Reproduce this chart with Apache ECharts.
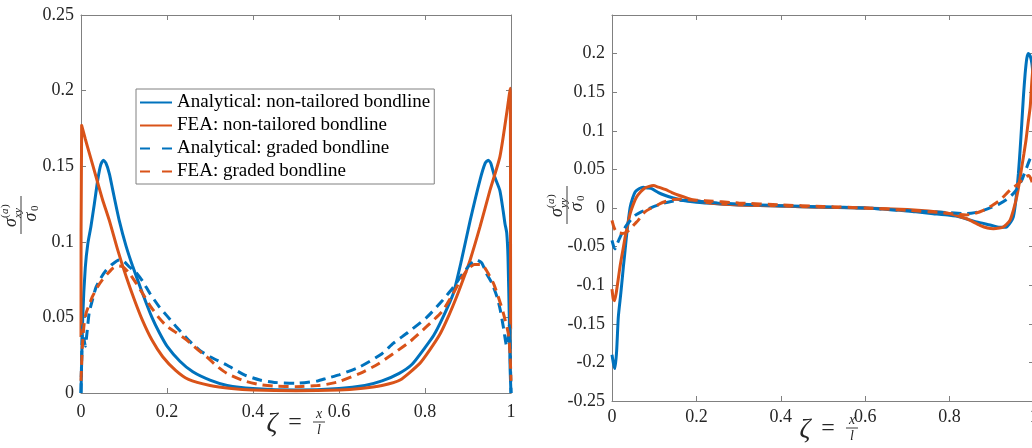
<!DOCTYPE html>
<html><head><meta charset="utf-8">
<script src="https://cdn.jsdelivr.net/npm/echarts/dist/echarts.min.js"></script>
<style>html,body{margin:0;padding:0;background:#fff}#c{width:1032px;height:448px}</style>
</head><body><div id="c"></div>
<script>
// ---------- data ----------
const seriesNames = ['Analytical: non-tailored bondline','FEA: non-tailored bondline','Analytical: graded bondline','FEA: graded bondline'];
const xTickValues = [0, 0.2, 0.4, 0.6, 0.8, 1];
const shearTickLabels = ['0','0.05','0.1','0.15','0.2','0.25'];
const peelTickLabels = ['-0.25','-0.2','-0.15','-0.1','-0.05','0','0.05','0.1','0.15','0.2'];

// left panel: shear stress sigma_xy / sigma_0
const shearAnalyticalNonTailored = [[0,0],[0.004,0.05],[0.01,0.083],[0.016,0.099],[0.023,0.11],[0.031,0.125],[0.039,0.141],[0.046,0.151],[0.052,0.154],[0.058,0.152],[0.066,0.145],[0.074,0.134],[0.089,0.114],[0.105,0.097],[0.12,0.084],[0.143,0.066],[0.165,0.05],[0.182,0.04],[0.2,0.031],[0.23,0.021],[0.26,0.014],[0.3,0.0085],[0.34,0.005],[0.4,0.003],[0.5,0.002],[0.6,0.003],[0.66,0.005],[0.7,0.008],[0.74,0.013],[0.77,0.019],[0.8,0.03],[0.82,0.038],[0.84,0.049],[0.866,0.066],[0.885,0.088],[0.905,0.114],[0.928,0.141],[0.94,0.152],[0.947,0.154],[0.953,0.152],[0.962,0.143],[0.974,0.134],[0.982,0.12],[0.986,0.112],[0.99,0.106],[0.993,0.09],[0.996,0.05],[0.998,0.015],[1,0]];
const shearFEANonTailored = [[0,0.037],[0.0015,0.177],[0.01,0.168],[0.02,0.158],[0.035,0.143],[0.05,0.128],[0.066,0.114],[0.085,0.095],[0.105,0.077],[0.125,0.061],[0.143,0.048],[0.165,0.035],[0.19,0.024],[0.22,0.015],[0.25,0.009],[0.3,0.005],[0.35,0.003],[0.4,0.002],[0.5,0.0015],[0.6,0.002],[0.65,0.003],[0.7,0.005],[0.742,0.0086],[0.788,0.0196],[0.81,0.028],[0.835,0.039],[0.855,0.051],[0.874,0.064],[0.89,0.076],[0.905,0.088],[0.928,0.11],[0.951,0.134],[0.974,0.156],[0.99,0.185],[0.998,0.2015],[0.9992,0.042],[1,0.042]];
const shearAnalyticalGraded = [[0,0],[0.002,0.03],[0.004,0.045],[0.007,0.036],[0.01,0.031],[0.014,0.04],[0.019,0.053],[0.027,0.062],[0.035,0.07],[0.046,0.076],[0.058,0.081],[0.072,0.085],[0.089,0.088],[0.1,0.087],[0.112,0.0835],[0.127,0.08],[0.143,0.074],[0.16,0.066],[0.182,0.057],[0.2,0.051],[0.221,0.044],[0.25,0.035],[0.277,0.028],[0.3,0.024],[0.339,0.0185],[0.38,0.012],[0.416,0.0086],[0.45,0.007],[0.5,0.0065],[0.55,0.008],[0.571,0.0097],[0.6,0.012],[0.649,0.0174],[0.7,0.026],[0.726,0.0328],[0.76,0.04],[0.804,0.05],[0.84,0.061],[0.866,0.07],[0.885,0.078],[0.905,0.085],[0.92,0.088],[0.932,0.086],[0.943,0.079],[0.955,0.073],[0.967,0.064],[0.975,0.055],[0.982,0.044],[0.99,0.031],[0.993,0.036],[0.996,0.045],[0.998,0.03],[1,0]];
const shearFEAGraded = [[0,0.008],[0.003,0.03],[0.007,0.045],[0.012,0.053],[0.02,0.059],[0.027,0.064],[0.038,0.07],[0.05,0.075],[0.062,0.079],[0.074,0.0825],[0.085,0.084],[0.097,0.0835],[0.11,0.08],[0.125,0.074],[0.143,0.066],[0.16,0.058],[0.182,0.0495],[0.2,0.044],[0.221,0.04],[0.246,0.035],[0.27,0.029],[0.292,0.024],[0.315,0.018],[0.339,0.013],[0.38,0.008],[0.416,0.0055],[0.45,0.0045],[0.5,0.0042],[0.55,0.005],[0.571,0.0057],[0.6,0.0075],[0.649,0.013],[0.69,0.019],[0.726,0.026],[0.765,0.034],[0.804,0.044],[0.84,0.054],[0.866,0.066],[0.885,0.076],[0.9,0.082],[0.915,0.085],[0.932,0.085],[0.945,0.08],[0.959,0.0726],[0.97,0.064],[0.982,0.053],[0.994,0.039],[0.998,0.025],[1,0.008]];

// right panel: peel stress sigma_yy / sigma_0
const peelAnalyticalNonTailored = [[0,-0.19],[0.004,-0.203],[0.007,-0.208],[0.011,-0.185],[0.015,-0.141],[0.021,-0.11],[0.027,-0.076],[0.031,-0.055],[0.035,-0.033],[0.039,-0.015],[0.043,0.001],[0.049,0.013],[0.055,0.021],[0.064,0.025],[0.074,0.027],[0.084,0.026],[0.094,0.025],[0.11,0.02],[0.125,0.0165],[0.145,0.013],[0.165,0.01],[0.2,0.0075],[0.25,0.0055],[0.3,0.004],[0.4,0.0025],[0.5,0.001],[0.6,0],[0.682,-0.003],[0.72,-0.005],[0.761,-0.0073],[0.8,-0.0095],[0.825,-0.0116],[0.845,-0.015],[0.864,-0.018],[0.896,-0.022],[0.919,-0.025],[0.935,-0.0246],[0.945,-0.018],[0.951,-0.0116],[0.957,0.01],[0.963,0.0445],[0.967,0.075],[0.971,0.109],[0.975,0.145],[0.979,0.174],[0.983,0.194],[0.987,0.2],[0.991,0.197],[0.995,0.187],[1,0.16]];
const peelFEANonTailored = [[0,-0.105],[0.003,-0.118],[0.006,-0.12],[0.01,-0.11],[0.019,-0.076],[0.025,-0.057],[0.031,-0.038],[0.037,-0.022],[0.043,-0.0073],[0.05,0.004],[0.058,0.014],[0.068,0.021],[0.078,0.026],[0.088,0.028],[0.098,0.029],[0.11,0.027],[0.126,0.024],[0.142,0.02],[0.158,0.0165],[0.18,0.0125],[0.197,0.01],[0.244,0.0057],[0.3,0.004],[0.4,0.0025],[0.5,0.001],[0.6,0],[0.7,-0.002],[0.75,-0.004],[0.801,-0.0073],[0.82,-0.0105],[0.84,-0.0138],[0.872,-0.0224],[0.89,-0.026],[0.904,-0.027],[0.918,-0.026],[0.927,-0.0246],[0.935,-0.021],[0.943,-0.016],[0.951,-0.003],[0.959,0.0142],[0.965,0.032],[0.971,0.053],[0.976,0.07],[0.981,0.0877],[0.986,0.11],[0.991,0.131],[0.995,0.165],[1,0.2]];
const peelAnalyticalGraded = [[0,-0.042],[0.004,-0.05],[0.007,-0.053],[0.011,-0.048],[0.019,-0.038],[0.027,-0.029],[0.035,-0.022],[0.045,-0.015],[0.055,-0.0095],[0.066,-0.006],[0.078,-0.003],[0.1,0.002],[0.118,0.0057],[0.14,0.0085],[0.158,0.01],[0.18,0.0095],[0.2,0.009],[0.25,0.0065],[0.3,0.005],[0.4,0.003],[0.5,0.0015],[0.6,0],[0.682,-0.003],[0.761,-0.005],[0.8,-0.006],[0.84,-0.0073],[0.86,-0.006],[0.88,-0.003],[0.9,0.001],[0.919,0.0057],[0.935,0.011],[0.951,0.0186],[0.961,0.026],[0.971,0.036],[0.983,0.053],[0.991,0.064],[1,0.07]];
const peelFEAGraded = [[0,-0.016],[0.004,-0.024],[0.008,-0.029],[0.015,-0.032],[0.025,-0.033],[0.035,-0.031],[0.045,-0.026],[0.055,-0.02],[0.062,-0.016],[0.07,-0.01],[0.078,-0.005],[0.09,-0.001],[0.1,0.001],[0.114,0.0057],[0.13,0.009],[0.145,0.011],[0.165,0.0115],[0.19,0.0105],[0.22,0.0095],[0.3,0.0065],[0.4,0.004],[0.5,0.002],[0.6,0],[0.7,-0.003],[0.78,-0.006],[0.84,-0.009],[0.86,-0.007],[0.88,-0.003],[0.9,0.003],[0.919,0.01],[0.943,0.023],[0.963,0.0316],[0.979,0.04],[0.988,0.042],[0.994,0.036],[1,0.025]];

// ---------- chart ----------
const BLUE = '#0072BD', ORANGE = '#D95319';
const FONT = 'Liberation Serif';
const AX = '#808080', TXT = '#262626';
const chart = echarts.init(document.getElementById('c'), null, {renderer: 'canvas'});

function xAxes(gi, margin) {
  const base = {gridIndex: gi, type: 'value', min: 0, max: 1, interval: 0.2,
    splitLine: {show: false},
    axisLine: {show: true, onZero: false, lineStyle: {color: AX, width: 1}},
    axisTick: {show: true, inside: true, length: 5, lineStyle: {color: AX}}};
  return [
    Object.assign({}, base, {position: 'bottom',
      axisLabel: {show: true, margin: margin, color: TXT, fontFamily: FONT, fontSize: 18, hideOverlap: false,
        formatter: v => { const i = xTickValues.findIndex(t => Math.abs(t - v) < 1e-9); return i < 0 ? '' : String(xTickValues[i]); }}}),
    Object.assign({}, base, {position: 'top', axisLabel: {show: false}})
  ];
}
function yAxes(gi, min, max, labels) {
  const base = {gridIndex: gi, type: 'value', min: min, max: max, interval: 0.05,
    splitLine: {show: false},
    axisLine: {show: true, onZero: false, lineStyle: {color: AX, width: 1}},
    axisTick: {show: true, inside: true, length: 5, lineStyle: {color: AX}}};
  return [
    Object.assign({}, base, {position: 'left',
      axisLabel: {show: true, margin: 7, color: TXT, fontFamily: FONT, fontSize: 18,
        formatter: v => { const s = labels.find(l => Math.abs(parseFloat(l) - v) < 1e-9); return s === undefined ? '' : s; }}}),
    Object.assign({}, base, {position: 'right', axisLabel: {show: false}})
  ];
}
function line(name, data, xi, yi, color, dashed) {
  return {name: name, type: 'line', data: data, xAxisIndex: xi, yAxisIndex: yi,
    symbol: 'none', showSymbol: false, smooth: 0.2, animation: false,
    lineStyle: {color: color, width: 3, type: dashed ? [10, 6] : 'solid'},
    itemStyle: {color: color}};
}
function txt(x, y, s, size, italic, align, valign) {
  return {type: 'text', x: x, y: y, style: {text: s, fontFamily: FONT, fontSize: size,
    fontStyle: italic ? 'italic' : 'normal', fill: TXT, align: align || 'center', verticalAlign: valign || 'middle'}};
}
function yFrac(cx, cy, sub) {
  return {type: 'group', x: cx, y: cy, rotation: Math.PI / 2, children: [
    txt(-3, -1, 'σ', 18, true, 'right', 'bottom'),
    txt(-3, -10, '(', 11, false, 'left', 'bottom'),
    txt(1, -10, 'a', 11, true, 'left', 'bottom'),
    txt(7, -10, ')', 11, false, 'left', 'bottom'),
    txt(-3, -8, sub, 11, true, 'left', 'top'),
    {type: 'line', shape: {x1: -19, y1: 0, x2: 19, y2: 0}, style: {stroke: TXT, lineWidth: 0.9}},
    txt(-2, 1, 'σ', 18, true, 'center', 'top'),
    txt(4, 9, '0', 11, false, 'left', 'top')
  ]};
}
function xTitle(x0, y0) {
  return {type: 'group', x: x0, y: y0, children: [
    txt(0, 0, 'ζ', 27, true, 'center', 'middle'),
    txt(23, -1, '=', 24, false, 'center', 'middle'),
    txt(47, -3, 'x', 14, true, 'center', 'bottom'),
    {type: 'line', shape: {x1: 41, y1: -2, x2: 53, y2: -2}, style: {stroke: TXT, lineWidth: 0.9}},
    txt(47, -1, 'l', 14, true, 'center', 'top')
  ]};
}

const option = {
  backgroundColor: '#fff',
  animation: false,
  grid: [
    {left: 81, top: 15, width: 430, height: 378, containLabel: false, outerBoundsMode: 'none'},
    {left: 612, top: 15, width: 422, height: 386, containLabel: false, outerBoundsMode: 'none'}
  ],
  xAxis: xAxes(0, 10).concat(xAxes(1, 7)),
  yAxis: yAxes(0, 0, 0.25, shearTickLabels).concat(yAxes(1, -0.25, 0.25, peelTickLabels)),
  legend: {
    data: [
      {name: seriesNames[0]},
      {name: seriesNames[1]},
      {name: seriesNames[2], lineStyle: {type: [10, 12]}},
      {name: seriesNames[3], lineStyle: {type: [10, 12]}}
    ],
    orient: 'vertical', left: 136, top: 89,
    backgroundColor: '#fff', borderColor: '#808080', borderWidth: 1,
    padding: [4, 4, 3, 3], itemGap: 4, itemWidth: 32, itemHeight: 14, itemTextGap: 2,
    itemStyle: {opacity: 0},
    textStyle: {fontFamily: FONT, fontSize: 19, color: '#000', lineHeight: 18},
    selectedMode: false
  },
  series: [
    line(seriesNames[0], shearAnalyticalNonTailored, 0, 0, BLUE, false),
    line(seriesNames[1], shearFEANonTailored, 0, 0, ORANGE, false),
    line(seriesNames[2], shearAnalyticalGraded, 0, 0, BLUE, true),
    line(seriesNames[3], shearFEAGraded, 0, 0, ORANGE, true),
    line(seriesNames[0], peelAnalyticalNonTailored, 2, 2, BLUE, false),
    line(seriesNames[1], peelFEANonTailored, 2, 2, ORANGE, false),
    line(seriesNames[2], peelAnalyticalGraded, 2, 2, BLUE, true),
    line(seriesNames[3], peelFEAGraded, 2, 2, ORANGE, true)
  ],
  graphic: [
    yFrac(21, 215, 'xy'),
    yFrac(567, 205, 'yy'),
    xTitle(272, 424),
    xTitle(805, 430)
  ]
};
chart.setOption(option);
</script></body></html>
